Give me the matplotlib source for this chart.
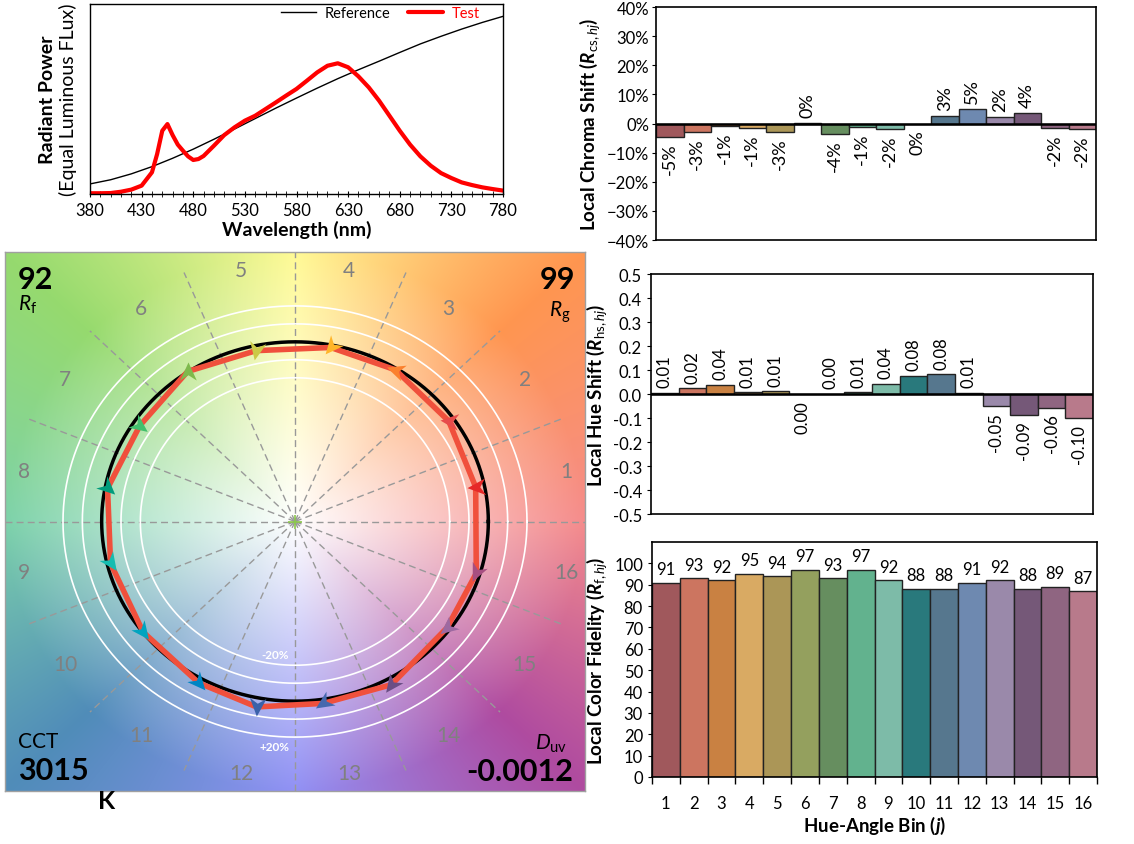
import numpy as np
import matplotlib
matplotlib.use('agg')
import matplotlib.pyplot as plt
from matplotlib.path import Path
from matplotlib.markers import MarkerStyle
from matplotlib.transforms import Affine2D
from matplotlib.ticker import PercentFormatter, MultipleLocator

plt.rcParams['font.family'] = ['Lato', 'DejaVu Sans']
plt.rcParams['mathtext.fontset'] = 'custom'
plt.rcParams['mathtext.rm'] = 'Lato'
plt.rcParams['mathtext.it'] = 'Lato:italic'
plt.rcParams['mathtext.bf'] = 'Lato:bold:italic'

# ---- data ----
bins = np.arange(1, 17)
rf_hj = [91, 93, 92, 95, 94, 97, 93, 97, 92, 88, 88, 91, 92, 88, 89, 87]
rcs_hj = [-4.6, -2.8, -0.9, -1.4, -2.8, 0.3, -3.6, -1.3, -1.8, -0.2, 2.7, 5.1, 2.3, 3.6, -1.6, -1.9]
rhs_hj = [0.006, 0.024, 0.038, 0.008, 0.012, -0.002, 0.002, 0.008, 0.043, 0.076, 0.083, 0.006,
          -0.052, -0.087, -0.057, -0.102]

wl_ref = [380, 400, 420, 440, 460, 480, 500, 520, 540, 560, 580, 600, 620, 640, 660, 680, 700, 720, 740, 760, 780]
spd_ref = [0.053, 0.075, 0.106, 0.144, 0.188, 0.236, 0.288, 0.342, 0.397, 0.452, 0.505, 0.557, 0.607, 0.654,
           0.699, 0.745, 0.790, 0.830, 0.868, 0.903, 0.935]
wl_test = [380, 390, 400, 410, 420, 430, 440, 445, 450, 455, 460, 465, 470, 475, 480, 485, 490, 500, 510, 520,
           530, 540, 550, 560, 570, 580, 590, 600, 610, 620, 630, 640, 650, 660, 670, 680, 690, 700, 710, 720,
           730, 740, 750, 760, 770, 780]
spd_test = [0.004, 0.004, 0.005, 0.012, 0.023, 0.044, 0.114, 0.21, 0.333, 0.368, 0.31, 0.26, 0.228, 0.198,
            0.179, 0.184, 0.2, 0.254, 0.31, 0.351, 0.386, 0.412, 0.447, 0.482, 0.518, 0.553, 0.596, 0.64,
            0.675, 0.688, 0.667, 0.619, 0.561, 0.491, 0.412, 0.333, 0.26, 0.198, 0.149, 0.11, 0.084, 0.061,
            0.047, 0.035, 0.026, 0.018]

cct = '3015'
duv = '-0.0012'
rf = '92'
rg = '99'

bar_colors = ['#a0585c', '#cc7560', '#c98142', '#d9aa63', '#ab9657', '#94a05e', '#668e5f', '#62b28e',
              '#7dbba8', '#29797c', '#56778e', '#6e89b0', '#9a89aa', '#755878', '#8f6581', '#b87a8b']
arrow_colors = ['#e62828', '#e74b4b', '#fb812e', '#ffb529', '#cbca46', '#7eb94c', '#41c06d', '#009c7c',
                '#16bcb0', '#00a4bf', '#0085c3', '#3b62aa', '#4568ae', '#6a4e85', '#9d69a1', '#a74f81']

W, H = 1134, 845
fig = plt.figure(figsize=(W / 100, H / 100), dpi=100)


def rect(l, t, r, b):
    return [l / W, 1 - b / H, (r - l) / W, (b - t) / H]


fs = 12
lfs = 13.5

# ---- spectrum ----
ax1 = fig.add_axes(rect(90, 5, 503, 195))
ax1.plot(wl_ref, spd_ref, color='black', lw=1, label='Reference')
ax1.plot(wl_test, spd_test, color='red', lw=3, label='Test', solid_capstyle='round')
ax1.set_xlim(380, 780)
ax1.set_ylim(0, 1)
ax1.set_yticks([])
ax1.set_xticks(range(380, 781, 50))
ax1.xaxis.set_minor_locator(MultipleLocator(10))
ax1.tick_params(axis='x', which='both', direction='inout', length=5, labelsize=fs)
ax1.set_xlabel('Wavelength (nm)', fontsize=14, weight='bold', labelpad=1)
ax1.text(-0.104, 0.5, 'Radiant Power', rotation=90, weight='bold', fontsize=14,
         ha='center', va='center', transform=ax1.transAxes)
ax1.text(-0.053, 0.5, '(Equal Luminous FLux)', rotation=90, fontsize=14,
         ha='center', va='center', transform=ax1.transAxes)
leg = ax1.legend(loc='upper right', ncol=2, frameon=False, fontsize=10.5, bbox_to_anchor=(0.975, 1.06),
                 handlelength=2.4, columnspacing=1.2, handletextpad=0.6)
leg.get_texts()[1].set_color('red')
for s in ax1.spines.values():
    s.set_linewidth(1)

# ---- colour vector graphic ----
ax = fig.add_axes(rect(5, 253, 585, 792))
n = 400
g = np.linspace(-1.5, 1.5, n)
X, Y = np.meshgrid(g, g)
ang = np.degrees(np.arctan2(Y, X)) % 360
rad = np.hypot(X, Y)
anc_ang = [0, 45, 90, 135, 180, 225, 270, 315, 360]
anc_col = np.array([(245, 140, 140), (255, 150, 80), (255, 250, 150), (150, 218, 110), (125, 210, 170),
                    (80, 140, 185), (145, 145, 245), (175, 75, 160), (245, 140, 140)]) / 255
col = np.stack([np.interp(ang, anc_ang, anc_col[:, k]) for k in range(3)], -1)
s = np.clip(rad / 1.5, 0, 1)[..., None]
bg = 1 - s * (1 - col)
ax.imshow(bg, extent=[-1.5, 1.5, -1.5, 1.5], origin='lower', aspect='auto', interpolation='bilinear', zorder=0)
ax.set_xlim(-1.5, 1.5)
ax.set_ylim(-1.5, 1.5)
ax.set_xticks([])
ax.set_yticks([])
for sp in ax.spines.values():
    sp.set_color('#a0a0a0')
    sp.set_linewidth(1)

ax.axhline(0, color='#999999', lw=1, dashes=(5, 3))
ax.axvline(0, color='#999999', lw=1, dashes=(5, 3))
for k in range(16):
    if k % 4 == 0:
        continue
    a = np.radians(22.5 * k)
    ax.plot([0, 1.5 * np.cos(a)], [0, 1.5 * np.sin(a)], color='#999999', lw=1, dashes=(5, 3))

t = np.linspace(0, 2 * np.pi, 361)
for rr in [0.8, 0.9, 1.1, 1.2]:
    ax.plot(rr * np.cos(t), rr * np.sin(t), color='white', lw=1.2)
ax.plot(np.cos(t), np.sin(t), color='black', lw=2.5)

theta = np.radians(11.25 + 22.5 * np.arange(16))
tr = 1 + np.array(rcs_hj) / 100
ta = theta + np.array(rhs_hj)
tx, ty = tr * np.cos(ta), tr * np.sin(ta)
ax.plot(np.append(tx, tx[0]), np.append(ty, ty[0]), color='#f0503c', lw=4, solid_joinstyle='round')

head = Path([(0.6, 0), (-0.6, 0.55), (-0.25, 0), (-0.6, -0.55), (0.6, 0)],
            [Path.MOVETO, Path.LINETO, Path.LINETO, Path.LINETO, Path.CLOSEPOLY])
for k in range(16):
    rx, ry = np.cos(theta[k]), np.sin(theta[k])
    dx, dy = tx[k] - rx, ty[k] - ry
    if np.hypot(dx, dy) < 1e-3:
        dx, dy = rx, ry
    d = np.degrees(np.arctan2(dy, dx))
    m = MarkerStyle(head, transform=Affine2D().rotate_deg(d))
    ax.plot(tx[k], ty[k], marker=m, ms=13, color=arrow_colors[k], mec='none', zorder=6)
    ax.text(1.43 * np.cos(theta[k]), 1.43 * np.sin(theta[k]), str(k + 1), color='#808080', fontsize=15,
            ha='center', va='center')

ax.plot(0, 0, marker='+', color='#8cc84b', ms=10, mew=1.2)
ax.text(-0.104, -0.74, '-20%', color='white', weight='bold', fontsize=8.5, ha='center', va='center')
ax.text(-0.104, -1.25, '+20%', color='white', weight='bold', fontsize=8.5, ha='center', va='center')

ax.text(0.022, 0.95, rf, transform=ax.transAxes, fontsize=22, weight='bold', ha='left', va='center')
ax.text(0.022, 0.904, r'$\mathit{R}_\mathrm{f}$', transform=ax.transAxes, fontsize=15, ha='left', va='center')
ax.text(0.983, 0.95, rg, transform=ax.transAxes, fontsize=22, weight='bold', ha='right', va='center')
ax.text(0.975, 0.89, r'$\mathit{R}_\mathrm{g}$', transform=ax.transAxes, fontsize=15, ha='right', va='center')
ax.text(0.022, 0.093, 'CCT', transform=ax.transAxes, fontsize=15, ha='left', va='center')
ax.text(0.022, 0.039, cct, transform=ax.transAxes, fontsize=22, weight='bold', ha='left', va='center')
ax.text(0.969, 0.089, r'$\mathit{D}_\mathrm{uv}$', transform=ax.transAxes, fontsize=15, ha='right', va='center')
ax.text(0.979, 0.037, duv, transform=ax.transAxes, fontsize=22, weight='bold', ha='right', va='center')
fig.text(107 / W, 1 - 802 / H, 'K', fontsize=18, weight='bold', ha='center', va='center')

# ---- local chroma shift ----
ax2 = fig.add_axes(rect(656, 8, 1096, 241))
ax2.bar(bins, rcs_hj, width=1, color=bar_colors, edgecolor='#222222', lw=1)
ax2.axhline(0, color='black', lw=1.8)
ax2.set_xlim(0.5, 16.5)
ax2.set_ylim(-40, 40)
ax2.set_xticks([])
ax2.yaxis.set_major_locator(MultipleLocator(10))
ax2.yaxis.set_major_formatter(PercentFormatter(decimals=0))
ax2.tick_params(axis='y', labelsize=fs, length=3, pad=2)
ax2.set_ylabel(r'Local Chroma Shift ($\mathbf{R}_{\mathrm{cs,}\mathit{hj}}$)', fontsize=lfs, weight='bold')
ax2.yaxis.set_label_coords(-0.122, 0.5)
for x, v in zip(bins, rcs_hj):
    up = v >= 0
    ax2.annotate(f'{round(v)}%', (x, v), xytext=(0, 4 if up else -4), textcoords='offset points',
                 rotation=90, ha='center', va='bottom' if up else 'top', fontsize=13)
for sp in ax2.spines.values():
    sp.set_linewidth(1.2)

# ---- local hue shift ----
ax3 = fig.add_axes(rect(651, 275, 1093, 515))
ax3.bar(bins, rhs_hj, width=1, color=bar_colors, edgecolor='#222222', lw=1)
ax3.axhline(0, color='black', lw=1.8)
ax3.set_xlim(0.5, 16.5)
ax3.set_ylim(-0.5, 0.5)
ax3.set_xticks([])
ax3.yaxis.set_major_locator(MultipleLocator(0.1))
ax3.yaxis.set_major_formatter(lambda v, p: f'{v:.1f}')
ax3.tick_params(axis='y', labelsize=fs, length=3)
ax3.set_ylabel(r'Local Hue Shift ($\mathbf{R}_{\mathrm{hs,}\mathit{hj}}$)', fontsize=lfs, weight='bold')
ax3.yaxis.set_label_coords(-0.095, 0.5)
for x, v in zip(bins, rhs_hj):
    up = v >= 0
    lab = f'{v:.2f}'
    if lab == '-0.00':
        lab = '0.00'
    ax3.annotate(lab, (x, v), xytext=(0, 4 if up else -4), textcoords='offset points',
                 rotation=90, ha='center', va='bottom' if up else 'top', fontsize=fs)
for sp in ax3.spines.values():
    sp.set_linewidth(1.2)

# ---- local colour fidelity ----
ax4 = fig.add_axes(rect(652, 543, 1097, 778))
ax4.bar(bins, rf_hj, width=1, color=bar_colors, edgecolor='#222222', lw=1)
ax4.set_xlim(0.5, 16.5)
ax4.set_ylim(0, 110)
ax4.set_yticks(range(0, 101, 10))
ax4.set_xticks(np.arange(0.5, 17, 1))
ax4.set_xticklabels([])
ax4.set_xticks(bins, minor=True)
ax4.set_xticklabels([str(b) for b in bins], minor=True)
ax4.tick_params(axis='x', which='major', length=5, width=1)
ax4.tick_params(axis='x', which='minor', length=0, labelsize=fs, pad=13)
ax4.tick_params(axis='y', labelsize=fs, length=3)
ax4.set_xlabel(r'Hue-Angle Bin ($\mathbf{j}$)', fontsize=lfs, weight='bold', labelpad=2)
ax4.set_ylabel(r'Local Color Fidelity ($\mathbf{R}_{\mathrm{f,}\mathit{hj}}$)', fontsize=lfs, weight='bold')
ax4.yaxis.set_label_coords(-0.097, 0.5)
for x, v in zip(bins, rf_hj):
    ax4.annotate(str(v), (x, v), xytext=(0, 4), textcoords='offset points', ha='center', va='bottom',
                 fontsize=fs, bbox=dict(fc='white', ec='none', pad=0.5), zorder=4)
for sp in ax4.spines.values():
    sp.set_linewidth(1.2)

fig.savefig('out.png', dpi=100)
